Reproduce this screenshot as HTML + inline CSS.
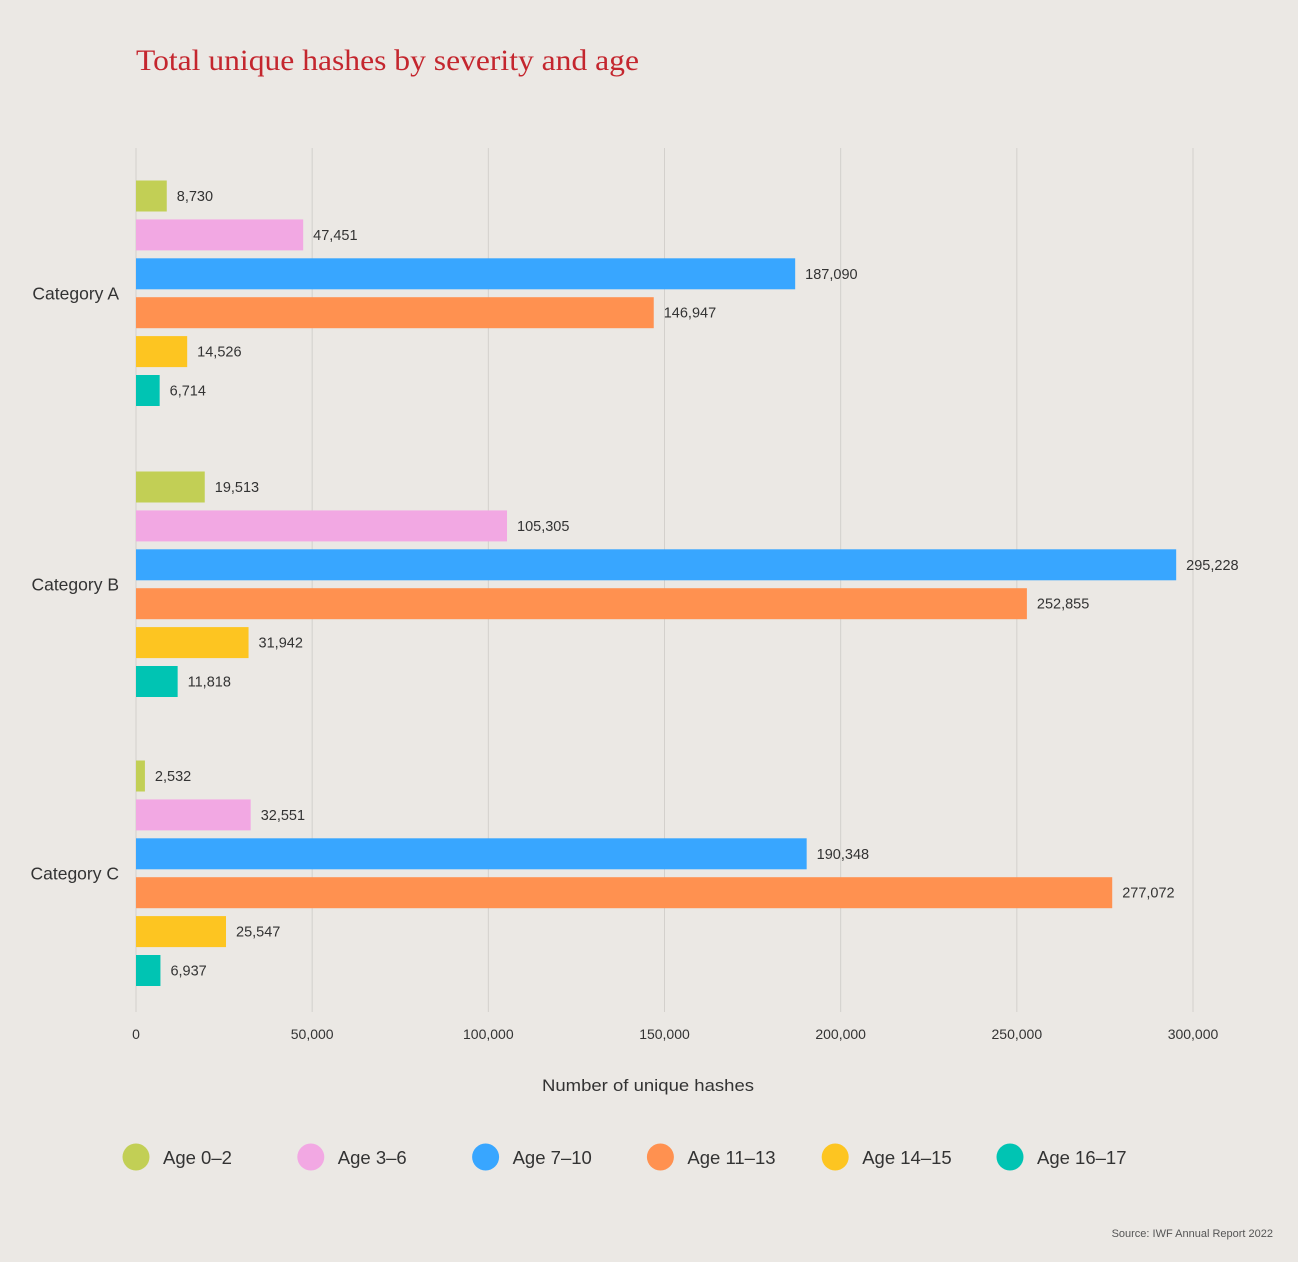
<!DOCTYPE html>
<html><head><meta charset="utf-8">
<style>
html,body{margin:0;padding:0;background:#ebe8e4;}
svg{display:block;}
text{font-family:"Liberation Sans",sans-serif;}
</style></head>
<body>
<svg id="chart" width="1298" height="1262" viewBox="0 0 1298 1262" xmlns="http://www.w3.org/2000/svg">
<rect width="1298" height="1262" fill="#ebe8e4"/>
<text x="136" y="70" font-size="30" fill="#c4262e" textLength="503" lengthAdjust="spacingAndGlyphs" style="font-family:'Liberation Serif',serif">Total unique hashes by severity and age</text>
<g id="grid"></g><g id="bars"></g><g id="labels"></g><g id="legend"></g>
<text x="648" y="1091" text-anchor="middle" font-size="17" fill="#333" textLength="212" lengthAdjust="spacingAndGlyphs">Number of unique hashes</text>
<text x="1273" y="1237" text-anchor="end" font-size="11" fill="#555">Source: IWF Annual Report 2022</text>
</svg>
<script>
const categories=["Category A","Category B","Category C"];
const series=["Age 0–2","Age 3–6","Age 7–10","Age 11–13","Age 14–15","Age 16–17"];
const colors=["#c2cf55","#f2a8e3","#38a6ff","#ff9150","#fdc521","#00c4b3"];
const valsA=[8730,47451,187090,146947,14526,6714];
const valsB=[19513,105305,295228,252855,31942,11818];
const valsC=[2532,32551,190348,277072,25547,6937];
const ticks=[0,50000,100000,150000,200000,250000,300000];
const allVals=[valsA,valsB,valsC];
const NS="http://www.w3.org/2000/svg";
const x0=136,x1=1193,xmax=300000;
const xs=v=>x0+(v/xmax)*(x1-x0);
const groupTop=[196,487,776],barStep=38.9,barH=31;
function mk(tag,attrs,parent){const e=document.createElementNS(NS,tag);for(const k in attrs)e.setAttribute(k,attrs[k]);parent.appendChild(e);return e;}
const grid=document.getElementById('grid'),bars=document.getElementById('bars'),labels=document.getElementById('labels'),legend=document.getElementById('legend');
ticks.forEach(t=>{
  const l=mk('line',{x1:xs(t),x2:xs(t),y1:148,y2:1012,stroke:'#d3d0cc','stroke-width':1},grid);
  
  
  const tx=mk('text',{x:xs(t),y:1039,'text-anchor':'middle','font-size':14,fill:'#333'},labels);
  tx.textContent=t.toLocaleString('en-US');
  
  
});
categories.forEach((c,gi)=>{
  const cy=groupTop[gi]+barStep*2.5;
  const ct=mk('text',{x:119,y:cy+6,'text-anchor':'end','font-size':17.5,fill:'#333'},labels);
  ct.textContent=c;
  
  
  allVals[gi].forEach((v,si)=>{
    const y=groupTop[gi]+si*barStep;
    const r=mk('rect',{x:x0,y:y-barH/2,width:xs(v)-x0,height:barH,fill:colors[si]},bars);
    
    
    const vt=mk('text',{x:xs(v)+10,y:y+5,'font-size':14.5,fill:'#333'},labels);
    vt.textContent=v.toLocaleString('en-US');
    
    
  });
});
series.forEach((s,i)=>{
  const cx=136+i*174.8;
  const c=mk('circle',{cx:cx,cy:1157,r:13.5,fill:colors[i]},legend);
  
  
  const t=mk('text',{x:cx+27,y:1164,'font-size':18.5,fill:'#333'},legend);
  t.textContent=s;
  
  
});
</script>
</body></html>
